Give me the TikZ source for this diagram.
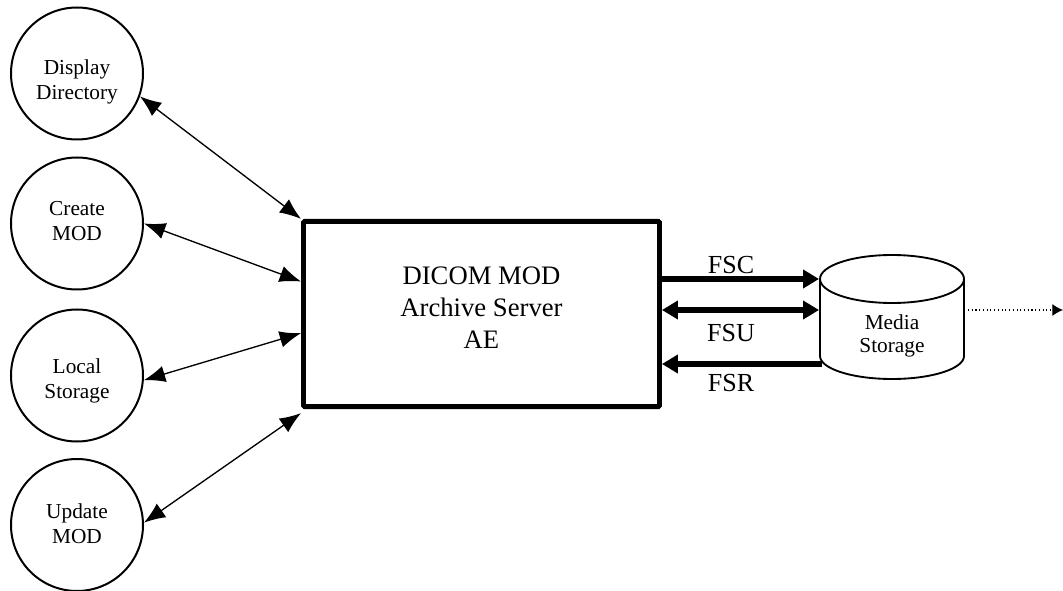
\documentclass[tikz,border=0pt]{standalone}
\usepackage{fontspec}
\setmainfont{Liberation Serif}
\usetikzlibrary{arrows.meta}

\begin{document}
\begin{tikzpicture}[x=.75pt, y=-.75pt, >={Latex[length=16pt,width=12.5pt]},
  proc/.style={draw, circle, line width=1.5pt, minimum size=99pt, inner sep=0pt},
  txt/.style={align=center, font=\fontsize{16}{18.5}\selectfont},
  link/.style={<->, line width=1pt},
  flow/.style={line width=4pt, -{Triangle[length=12pt,width=13.5pt]}},
  lbl/.style={font=\fontsize{19.5}{22}\selectfont}]
\useasboundingbox (0,0) rectangle (1063,591);
\node[proc](disp) at (77,73.5) {};
\node[txt, yshift=-6.4pt](dispt) at (disp) {Display\\Directory};
\node[proc](create) at (77,223.5) {};
\node[txt, yshift=1.9pt](createt) at (create) {Create\\MOD};
\node[proc](local) at (77,375.5) {};
\node[txt, yshift=-4.1pt](localt) at (local) {Local\\Storage};
\node[proc](update) at (77,525) {};
\node[txt, yshift=.8pt](updatet) at (update) {Update\\MOD};
\node[draw, line width=3.7pt, rounded corners=1pt, minimum width=267pt, minimum height=139pt](server) at (481.5,314) {};
\node[align=center, yshift=4.5pt, font=\fontsize{20}{24}\selectfont](servert) at (server) {DICOM MOD\\Archive Server\\AE};
% media storage
\draw[line width=1.4pt](892,279) ellipse[x radius=72, y radius=24];
\draw[line width=1.4pt](820,279)--(820,356) arc[start angle=180, end angle=0, x radius=72, y radius=23]--(964,279);
\node[txt, font=\fontsize{16}{17.5}\selectfont](media) at (892,336) {Media\\Storage};
\coordinate (cfsc) at (819,279);
\coordinate (cfsu) at (819,310);
\coordinate (cfsr) at (822,364);
\coordinate (cout) at (968,310);
\coordinate (out) at (1063,310);

\draw[link](disp.-20.5)--(server.north west);
\draw[link](create.east)--([yshift=-47pt]server.north west);
\draw[link](local.-4)--([yshift=57pt]server.south west);
\draw[link](update.2)--([yshift=-3pt]server.south west);
\draw[flow](server.east |- cfsc)--(cfsc);
\draw[flow, {Triangle[length=12pt,width=13.5pt]}-{Triangle[length=12pt,width=13.5pt]}](server.east |- cfsu)--(cfsu);
\draw[flow](cfsr)--(server.east |- cfsr);
\node[lbl](fsc) at (731,265) {FSC};
\node[lbl](fsu) at (731,333) {FSU};
\node[lbl](fsr) at (731,383) {FSR};
\draw[dotted, line width=.8pt, -{Latex[length=8pt,width=9pt]}](cout)--(out);
\end{tikzpicture}
\end{document}
